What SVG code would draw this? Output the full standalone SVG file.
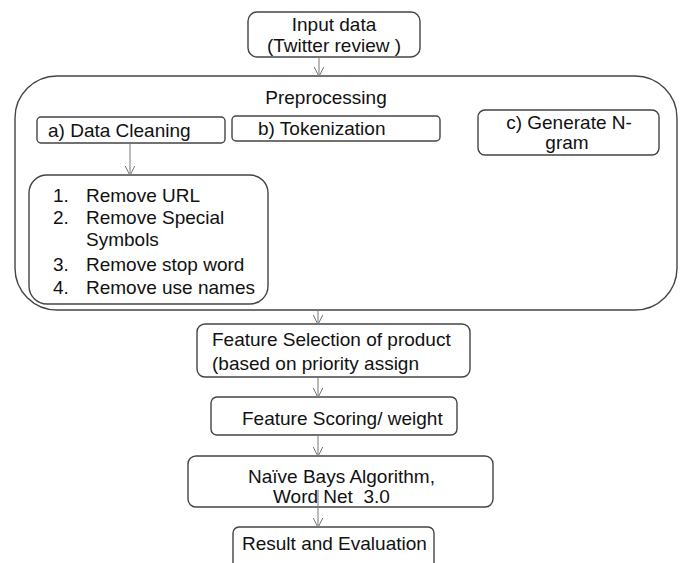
<svg xmlns="http://www.w3.org/2000/svg" width="683" height="563" viewBox="0 0 683 563">
<style>
.box{fill:#fff;stroke:#444;stroke-width:1.4}
.t{font-family:"Liberation Sans",Arial,sans-serif;font-size:19px;fill:#111;white-space:pre}
.c{stroke:#777;stroke-width:1;fill:none}
</style>
<defs>
<marker id="ah" viewBox="0 0 10 10" refX="9.5" refY="5" markerWidth="10" markerHeight="10" markerUnits="userSpaceOnUse" orient="auto">
<path d="M0,0 L10,5 L0,10" fill="none" stroke="#777" stroke-width="1"/>
</marker>
</defs>
<rect width="683" height="563" fill="#fff"/>
<g id="preprocessing">
<rect class="box" x="15" y="76" width="662" height="234" rx="42" ry="42"/>
<text class="t" x="326" y="104" text-anchor="middle">Preprocessing</text>
</g>
<g id="input">
<rect class="box" x="248" y="12" width="172" height="45" rx="9"/>
<text class="t" x="334" y="31" text-anchor="middle">Input data</text>
<text class="t" x="334" y="52" text-anchor="middle">(Twitter review )</text>
</g>
<g id="cleaning">
<rect class="box" x="37" y="117" width="188" height="26" rx="4"/>
<text class="t" x="48" y="137">a) Data Cleaning</text>
</g>
<g id="tokenization">
<rect class="box" x="232" y="116" width="208" height="25" rx="4"/>
<text class="t" x="258" y="135">b) Tokenization</text>
</g>
<g id="ngram">
<rect class="box" x="478" y="110" width="181" height="45" rx="7"/>
<text class="t" x="569" y="129" text-anchor="middle">c) Generate N-</text>
<text class="t" x="567" y="149" text-anchor="middle">gram</text>
</g>
<g id="steps">
<rect class="box" x="29" y="175" width="239" height="129" rx="18"/>
<text class="t" x="53" y="202">1.</text><text class="t" x="86" y="202">Remove URL</text>
<text class="t" x="53" y="224">2.</text><text class="t" x="86" y="224">Remove Special</text>
<text class="t" x="86" y="246">Symbols</text>
<text class="t" x="53" y="271">3.</text><text class="t" x="86" y="271">Remove stop word</text>
<text class="t" x="53" y="294">4.</text><text class="t" x="86" y="294">Remove use names</text>
</g>
<g id="selection">
<rect class="box" x="197" y="324" width="273" height="53" rx="8"/>
<text class="t" x="212" y="346">Feature Selection of product</text>
<text class="t" x="212" y="370">(based on priority assign</text>
</g>
<g id="scoring">
<rect class="box" x="211" y="397" width="246" height="38" rx="6"/>
<text class="t" x="242" y="425">Feature Scoring/ weight</text>
</g>
<g id="naive">
<rect class="box" x="188" y="456" width="305" height="51" rx="8"/>
<text class="t" x="248" y="483">Naïve Bays Algorithm,</text>
<text class="t" x="273" y="503">Word Net  3.0</text>
</g>
<g id="result">
<rect class="box" x="233" y="527" width="201" height="45" rx="6"/>
<text class="t" x="242" y="550">Result and Evaluation</text>
</g>
<g id="connectors">
<line class="c" x1="319" y1="57" x2="319" y2="76" marker-end="url(#ah)"/>
<line class="c" x1="130" y1="143" x2="130" y2="175" marker-end="url(#ah)"/>
<line class="c" x1="318" y1="310" x2="318" y2="324" marker-end="url(#ah)"/>
<line class="c" x1="318" y1="377" x2="318" y2="397" marker-end="url(#ah)"/>
<line class="c" x1="318" y1="435" x2="318" y2="456" marker-end="url(#ah)"/>
<line class="c" x1="318" y1="490" x2="318" y2="527" marker-end="url(#ah)"/>
</g>
</svg>
